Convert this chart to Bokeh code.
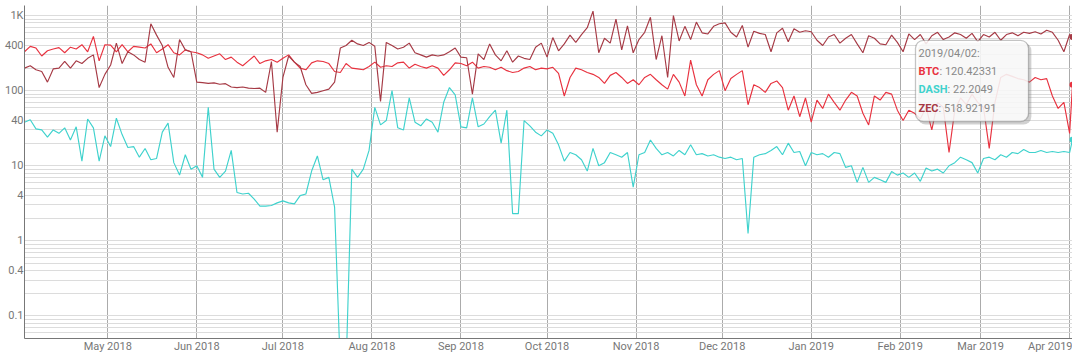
import math
import pandas as pd
from bokeh.plotting import figure
from bokeh.models import (ColumnDataSource, FixedTicker, MonthsTicker, CustomJSTickFormatter,
                          BoxAnnotation, Label, Range1d)
from bokeh.embed import file_html
from bokeh.resources import INLINE

# ---------------- data (every 2nd day) ----------------
dates = list(pd.date_range("2018-04-02", "2019-04-01", freq="2D")) + [pd.Timestamp("2019-04-02")]

btc = [
    # Apr 2018
    330, 390, 370, 290, 340, 360, 375, 320, 380, 360, 410, 330, 530, 250, 410,
    # May
    405, 330, 410, 330, 390, 380, 370, 420, 320, 360, 410, 320, 300, 350, 330,
    # Jun
    320, 300, 270, 290, 310, 260, 280, 240, 215, 250, 290, 230, 250, 260, 240,
    # Jul
    270, 300, 240, 200, 190, 235, 250, 245, 230, 180, 175, 230, 200, 195, 190, 210,
    # Aug
    240, 205, 215, 210, 235, 240, 200, 225, 210, 200, 215, 200, 160, 190, 235,
    # Sep
    230, 215, 240, 200, 210, 205, 190, 205, 185, 175, 180, 200, 210, 190, 200,
    # Oct
    195, 205, 170, 85, 150, 200, 190, 175, 165, 150, 125, 160, 175, 150, 125, 140,
    # Nov
    120, 150, 165, 140, 120, 105, 165, 130, 85, 255, 120, 85, 140, 165, 185,
    # Dec
    100, 145, 165, 185, 65, 120, 110, 95, 125, 135, 110, 55, 85, 45, 80,
    # Jan 2019
    38, 75, 58, 90, 70, 55, 75, 95, 85, 50, 35, 85, 75, 95, 90, 55,
    # Feb
    40, 55, 50, 42, 60, 30, 70, 60, 15, 55, 80, 65, 90, 70,
    # Mar + Apr 1-2
    60, 17, 70, 150, 165, 155, 145, 140, 130, 150, 140, 145, 85, 58, 70, 27, 120.42331,
]

dash = [
    # Apr 2018
    38, 41, 31, 30, 24, 30, 27, 32, 22, 33, 11.5, 42, 32, 11.5, 25,
    # May
    18, 43, 26, 17.5, 18, 13, 17, 12, 12.5, 28, 37, 11, 7.5, 14, 9,
    # Jun
    10, 7, 60, 9, 7, 8.5, 16, 4.4, 4.2, 4.3, 3.6, 2.9, 2.9, 2.95, 3.2,
    # Jul
    3.4, 3.2, 3.1, 4.0, 4.2, 8.5, 13.5, 6.5, 7, 2.8, 0.02, 0.02, 9, 7, 9, 16,
    # Aug
    60, 35, 40, 100, 32, 30, 80, 38, 34, 42, 38, 28, 70, 110, 88,
    # Sep
    33, 32, 80, 33, 36, 45, 55, 20, 55, 2.3, 2.3, 40, 34, 28, 25,
    # Oct
    30, 27, 19, 11.5, 15, 14, 12, 8.5, 17, 10, 11, 15, 14, 13, 15, 5.2,
    # Nov
    14, 15, 22, 17, 14, 15, 13.5, 16, 14, 19, 14, 14.5, 13.5, 14, 13,
    # Dec
    12.5, 13, 12, 12.5, 1.25, 13, 14, 14.5, 16, 18, 14, 20, 15, 15.5, 10,
    # Jan 2019
    15, 14, 14.5, 13, 15, 14.5, 9.5, 10, 6, 9.5, 6, 7, 6.5, 6, 8.4, 7.5,
    # Feb
    8, 7, 8, 6.2, 9.3, 8.5, 9, 8, 10, 11, 13, 12, 11, 8,
    # Mar + Apr 1-2
    12.5, 13, 12, 14, 13, 15, 14.5, 16.5, 15, 15, 16, 15, 15.5, 15, 15.5, 15, 22.2049,
]

zec = [
    # Apr 2018
    200, 215, 190, 180, 130, 195, 200, 245, 200, 250, 230, 270, 300, 110, 165,
    # May
    220, 430, 230, 330, 300, 260, 240, 780, 550, 400, 205, 150, 480, 350, 330,
    # Jun
    130, 128, 125, 127, 122, 124, 112, 110, 112, 108, 107, 108, 95, 245, 28,
    # Jul
    150, 290, 240, 210, 120, 92, 95, 100, 105, 130, 370, 400, 470, 420, 400, 440,
    # Aug
    390, 72, 440, 400, 360, 380, 430, 320, 300, 280, 300, 290, 300, 330, 370,
    # Sep
    280, 275, 90, 310, 260, 420, 300, 250, 340, 240, 290, 270, 260, 380, 430,
    # Oct
    280, 510, 340, 420, 550, 440, 560, 690, 1150, 320, 500, 430, 900, 350, 730, 320,
    # Nov
    480, 600, 950, 260, 540, 150, 1000, 460, 720, 480, 820, 590, 570, 720, 780,
    # Dec
    800, 600, 520, 740, 380, 620, 580, 560, 330, 590, 680, 450, 670, 600, 630,
    # Jan 2019
    610, 470, 400, 520, 560, 430, 500, 560, 420, 320, 540, 500, 420, 410, 550, 440,
    # Feb
    330, 570, 480, 560, 420, 540, 600, 480, 520, 590, 560, 500, 580, 450,
    # Mar + Apr 1-2
    560, 520, 600, 470, 560, 590, 540, 600, 580, 610, 570, 640, 600, 470, 330, 560, 518.92191,
]

series_names = ["BTC", "DASH", "ZEC"]
series_colors = ["#e8323f", "#3fd2cd", "#a63a45"]
y_tick_values = [0.1, 0.4, 1, 4, 10, 40, 100, 400, 1000]
month_ticks = list(pd.date_range("2018-05-01", "2019-04-01", freq="MS"))
month_names = ["Jan", "Feb", "Mar", "Apr", "May", "Jun",
               "Jul", "Aug", "Sep", "Oct", "Nov", "Dec"]
tooltip_date = "2019/04/02:"

assert len(btc) == len(dates) and len(dash) == len(dates) and len(zec) == len(dates)

# ---------------- figure geometry ----------------
FIG_W, FIG_H = 1072, 355
TOP, BOTTOM, LEFT = 5, 15, 24
FRAME_H = FIG_H - TOP - BOTTOM            # 335 px
FRAME_W = FIG_W - LEFT
PX_DEC = 75.5                             # pixels per decade
LOG_ONE_AT = 241.7 - TOP                  # frame px where value 1 sits
YMAX = 10 ** (LOG_ONE_AT / PX_DEC)
YMIN = 10 ** ((LOG_ONE_AT - FRAME_H) / PX_DEC)


def ms(ts):
    return pd.Timestamp(ts).timestamp() * 1000.0


X0, X1 = ms(dates[0]), ms(dates[-1])


def y_at(px):
    """value at px pixels below the frame top"""
    return 10 ** (math.log10(YMAX) - px / PX_DEC)


def x_at(px):
    """time (ms) at px pixels right of the figure's left edge"""
    return X0 + (px - LEFT) / FRAME_W * (X1 - X0)


src = ColumnDataSource(dict(date=dates, BTC=btc, DASH=dash, ZEC=zec))

p = figure(width=FIG_W, height=FIG_H, x_axis_type="datetime", y_axis_type="log",
           x_range=Range1d(dates[0].to_pydatetime(), dates[-1].to_pydatetime()),
           y_range=Range1d(YMIN, YMAX),
           output_backend="svg", toolbar_location=None,
           min_border_left=LEFT, min_border_right=0, min_border_top=TOP,
           min_border_bottom=BOTTOM)
p.outline_line_color = None
p.background_fill_color = "white"

minor = sorted({round(m * 10 ** k, 6) for k in range(-2, 4) for m in range(1, 10)})
p.yaxis.ticker = FixedTicker(ticks=y_tick_values, minor_ticks=minor)
p.yaxis.formatter = CustomJSTickFormatter(
    code="return tick >= 1000 ? (tick / 1000) + 'K' : String(tick);")

# month labels; the last one (Apr 2019) sits at the right edge, so its label is
# placed (like the reference) shifted left so that it ends at the edge
label_ticks = [ms(t) for t in month_ticks[:-1]] + [x_at(1054.5)]
p.xaxis.ticker = FixedTicker(ticks=label_ticks)
p.xaxis.formatter = CustomJSTickFormatter(
    args=dict(names=month_names, last=ms(month_ticks[-2]), last_text="Apr 2019"),
    code="""
        if (tick > last) return last_text;
        const d = new Date(tick);
        return names[d.getUTCMonth()] + " " + d.getUTCFullYear();
    """)
p.xgrid.ticker = MonthsTicker(months=list(range(12)))

for ax in (p.xaxis, p.yaxis):
    ax.axis_line_color = "#777777"
    ax.axis_line_width = 1
    ax.major_tick_in = 0
    ax.major_tick_out = 0
    ax.minor_tick_in = 0
    ax.minor_tick_out = 0
    ax.major_label_text_font = "Roboto"
    ax.major_label_text_font_size = "11px"
    ax.major_label_text_color = "#777777"
p.yaxis.major_label_standoff = 1
p.xaxis.major_label_standoff = 1

p.xgrid.grid_line_color = "#ababab"
p.xgrid.grid_line_width = 1
p.ygrid.grid_line_color = "#dcdcdc"
p.ygrid.minor_grid_line_color = "#dcdcdc"

for name, col in zip(series_names, series_colors):
    p.line(x="date", y=name, source=src, line_color=col, line_width=1.15)

last = [btc[-1], dash[-1], zec[-1]]
p.scatter(x=[dates[-1]] * 3, y=last, size=6, color=series_colors, line_color=None)

# ---------------- legend box (hover legend) ----------------
box_left, box_right = x_at(915), x_at(1028)
top_px, bot_px = 35.0, 116.7
day = 86400000.0

shadow = BoxAnnotation(left=box_left + 0.8 * day, right=box_right + 1.0 * day,
                       top=y_at(top_px + 2.5), bottom=y_at(bot_px + 3.0),
                       fill_color="#7a7a7a", fill_alpha=0.35, line_color=None,
                       border_radius=8)
box = BoxAnnotation(left=box_left, right=box_right, top=y_at(top_px), bottom=y_at(bot_px),
                    fill_color="white", fill_alpha=0.84, line_color="#3a3a3a",
                    line_width=1.3, border_radius=8)
p.add_layout(shadow)
p.add_layout(box)

p.add_layout(Label(x=box_left, y=y_at(48.3), x_offset=3, text=tooltip_date,
                   text_font="Roboto", text_font_size="11px", text_color="#888888",
                   text_baseline="middle", text_align="left"))

name_widths = [21.0, 29.1, 20.1]
values_txt = [str(v) for v in last]
for i, (name, col, w, vt) in enumerate(zip(series_names, series_colors, name_widths, values_txt)):
    yy = y_at(66.7 + 18.3 * i)
    p.add_layout(Label(x=box_left, y=yy, x_offset=3, text=name, text_font="Roboto",
                       text_font_size="11px", text_font_style="bold", text_color=col,
                       text_baseline="middle", text_align="left"))
    p.add_layout(Label(x=box_left, y=yy, x_offset=3 + w, text=": " + vt, text_font="Roboto",
                       text_font_size="11px", text_color="#888888",
                       text_baseline="middle", text_align="left"))

open("out.html", "w").write(file_html(p, INLINE))
